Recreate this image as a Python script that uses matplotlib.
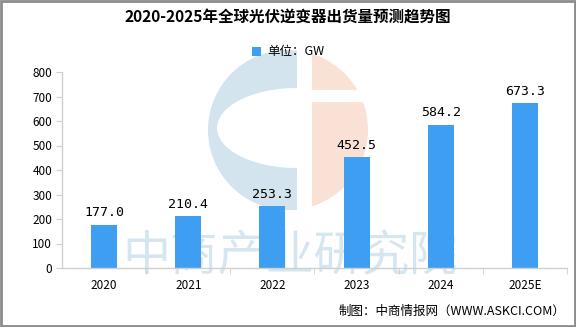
import matplotlib
matplotlib.use('Agg')
import matplotlib.pyplot as plt
from matplotlib.patches import Ellipse, Wedge, Rectangle

plt.rcParams['font.family'] = ['Noto Sans CJK SC', 'DejaVu Sans']

# shipments of PV inverters, GW
years = ['2020', '2021', '2022', '2023', '2024', '2025E']
shipments = [177.0, 210.4, 253.3, 452.5, 584.2, 673.3]
y_ticks = [0, 100, 200, 300, 400, 500, 600, 700, 800]

W, H = 576, 327
fig = plt.figure(figsize=(W / 100, H / 100), dpi=100)

# background layer in pixel coordinates for the watermark and frame
bg = fig.add_axes([0, 0, 1, 1], zorder=0)
bg.set_xlim(0, W)
bg.set_ylim(H, 0)
bg.axis('off')

# logo: blue "C" on the left, salmon half on the right
cx, cy, r = 288, 130, 80
blue, salmon = '#d3e4ee', '#fae1d6'
bg.add_patch(Wedge((cx, cy), r, -90, 90, color=salmon, lw=0))
bg.add_patch(Wedge((cx, cy), r, 90, 270, color=blue, lw=0))
bg.add_patch(Rectangle((cx, cy - r + 0.5), 9, 2 * r - 1, color=blue, lw=0))
hole = Ellipse((297, 128), 160, 80, color='white', lw=0)
bg.add_patch(hole)
hole.set_clip_path(Rectangle((0, 0), 297, H, transform=bg.transData))
bg.add_patch(Rectangle((297, cy - r - 1), 15, 2 * r + 2, color='white', lw=0))
bg.add_patch(Rectangle((312, 90), r, 12, color='white', lw=0))
bg.text(290, 256, '中商产业研究院', fontsize=34.5, color='#d6e6f0',
        ha='center', va='center', fontweight='medium')

# outer frame
bg.add_patch(Rectangle((1, 1), W - 2, H - 2, fill=False, ec='#8c8c8c', lw=2))

ax = fig.add_axes([62 / W, 1 - 268 / H, (567 - 62) / W, (268 - 72) / H], zorder=1)
ax.patch.set_alpha(0)

x = range(len(years))
bars = ax.bar(x, shipments, width=0.31, color='#3e9ff2', label='单位：GW', zorder=2)
for xi, v in zip(x, shipments):
    ax.text(xi, v + 22, f'{v:.1f}', ha='center', va='bottom', fontsize=9.5,
            family=['DejaVu Sans Mono', 'DejaVu Sans'])

ax.set_xlim(-0.5, len(years) - 0.5)
ax.set_ylim(0, 800)
ax.set_yticks(y_ticks)
ax.set_xticks(list(x))
ax.set_xticklabels(years)
ax.set_xticks([i + 0.5 for i in x], minor=True)
ax.tick_params(axis='x', which='major', length=0, pad=8, labelsize=8.5)
ax.tick_params(axis='x', which='minor', length=4, color='#d0d0d0')
ax.tick_params(axis='y', length=4, color='#d0d0d0', labelsize=8.5, pad=3)
for s in ['top', 'right']:
    ax.spines[s].set_visible(False)
for s in ['left', 'bottom']:
    ax.spines[s].set_color('#d0d0d0')
    ax.spines[s].set_linewidth(1)

fig.text(0.5, 1 - 18 / H, '2020-2025年全球光伏逆变器出货量预测趋势图', ha='center',
         va='center', fontsize=11.2, fontweight='bold')
fig.legend(loc='center', bbox_to_anchor=(288 / W, 1 - 52 / H), frameon=False,
           fontsize=9, handlelength=0.7, handleheight=0.7, handletextpad=0.5)
fig.text(565 / W, 1 - 311 / H, '制图：中商情报网（WWW.ASKCI.COM）', ha='right',
         va='center', fontsize=9)

fig.savefig('out.png', dpi=100)
